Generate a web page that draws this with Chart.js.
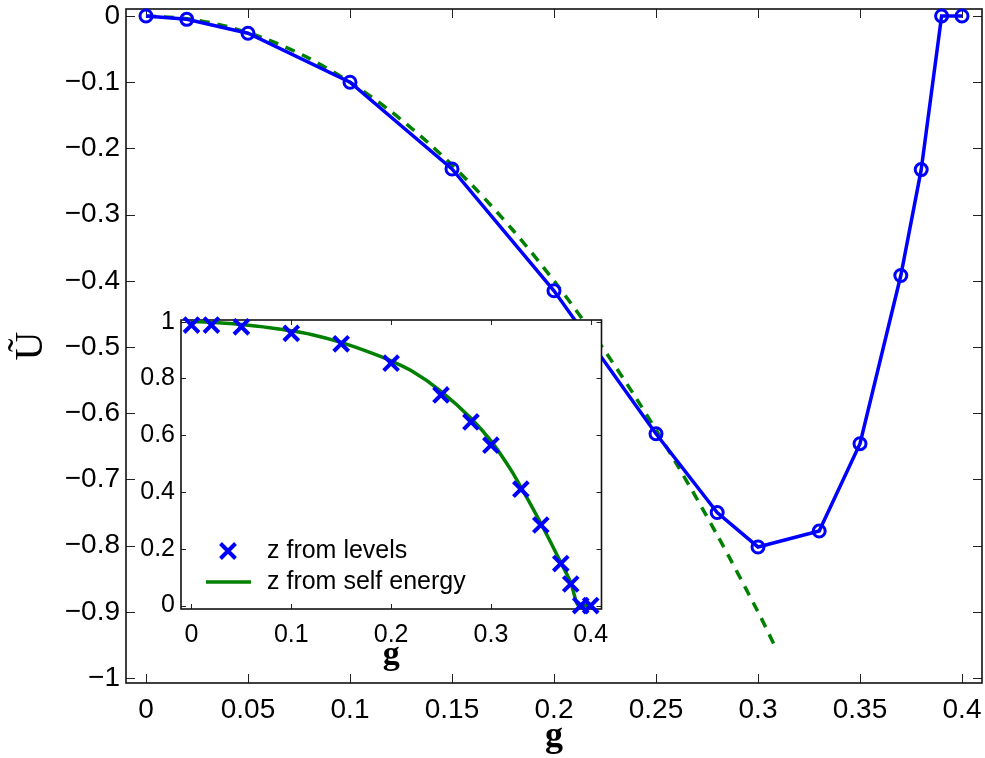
<!DOCTYPE html>
<html>
<head>
<meta charset="utf-8">
<script src="https://cdn.jsdelivr.net/npm/chart.js@4.4.0/dist/chart.umd.min.js"></script>
<style>
  html, body { margin: 0; padding: 0; background: #fff; overflow: hidden; }
  #main { position: absolute; left: 0; top: 0; }
  #inset { position: absolute; left: 130px; top: 305px; }
</style>
</head>
<body>
<canvas id="main" width="985" height="758"></canvas>
<canvas id="inset" width="480" height="375"></canvas>
<script>
// main plot: U~ against g
const mainG = [0, 0.02, 0.05, 0.1, 0.15, 0.2, 0.25, 0.28, 0.3, 0.33, 0.35, 0.37, 0.38, 0.39, 0.4];
const mainU = [0, -0.005, -0.026, -0.1, -0.231, -0.415, -0.631, -0.75, -0.802, -0.778, -0.646, -0.392, -0.232, 0, 0];

// green dashed curve
const dashG = [0, 0.02, 0.04, 0.06, 0.08, 0.1, 0.12, 0.14, 0.16, 0.18, 0.2, 0.22, 0.24, 0.26, 0.28, 0.3, 0.308];
const dashU = [0, -0.004, -0.016, -0.036, -0.064, -0.1, -0.144, -0.196, -0.256, -0.324, -0.4, -0.484, -0.576, -0.676, -0.784, -0.9, -0.95];

const mainXTicks = [0, 0.05, 0.1, 0.15, 0.2, 0.25, 0.3, 0.35, 0.4];
const mainYTicks = [0, -0.1, -0.2, -0.3, -0.4, -0.5, -0.6, -0.7, -0.8, -0.9, -1];

// inset: z against g
const levelsG = [0, 0.02, 0.05, 0.1, 0.15, 0.2, 0.25, 0.28, 0.3, 0.33, 0.35, 0.37, 0.38, 0.39, 0.4];
const levelsZ = [0.988, 0.988, 0.982, 0.959, 0.922, 0.854, 0.742, 0.647, 0.565, 0.41, 0.284, 0.148, 0.076, 0, 0];

const selfG = [0, 0.02, 0.05, 0.08, 0.1, 0.12, 0.15, 0.18, 0.2, 0.22, 0.25, 0.28, 0.3, 0.32, 0.33, 0.35, 0.36, 0.37, 0.38, 0.388, 0.4];
const selfZ = [1.0, 0.998, 0.99, 0.978, 0.968, 0.955, 0.927, 0.89, 0.862, 0.828, 0.755, 0.66, 0.58, 0.478, 0.418, 0.29, 0.222, 0.152, 0.08, 0, 0];

const insetXTicks = [0, 0.1, 0.2, 0.3, 0.4];
const insetYTicks = [0, 0.2, 0.4, 0.6, 0.8, 1];

const BLUE = '#0000ff';
const GREEN = '#008000';
const SANS = '"Liberation Sans", Arial, sans-serif';
const SERIF = '"Liberation Serif", "Times New Roman", serif';

const pts = (xs, ys) => xs.map((x, i) => ({ x, y: ys[i] }));
const fmt = (v) => (v < 0 ? '\u2212' + String(-v) : String(v));

// matlab style box with inward ticks on all four sides
const framePlugin = {
    id: 'frame',
    beforeDraw(chart, args, opts) {
        if (!opts.fill) return;
        const a = chart.chartArea;
        chart.ctx.save();
        chart.ctx.fillStyle = '#fff';
        chart.ctx.fillRect(a.left, a.top, a.right - a.left, a.bottom - a.top);
        chart.ctx.restore();
    },
    beforeDatasetsDraw(chart, args, opts) {
        const { ctx, chartArea: a, scales } = chart;
        ctx.save();
        ctx.strokeStyle = '#222';
        ctx.lineWidth = 1;
        ctx.beginPath();
        scales.x.ticks.forEach((t) => {
            const p = Math.round(scales.x.getPixelForValue(t.value)) + 0.5;
            ctx.moveTo(p, a.bottom); ctx.lineTo(p, a.bottom - opts.len);
            ctx.moveTo(p, a.top); ctx.lineTo(p, a.top + opts.len);
        });
        scales.y.ticks.forEach((t) => {
            const p = Math.round(scales.y.getPixelForValue(t.value)) + 0.5;
            ctx.moveTo(a.left, p); ctx.lineTo(a.left + opts.len, p);
            ctx.moveTo(a.right, p); ctx.lineTo(a.right - opts.len, p);
        });
        ctx.stroke();
        ctx.lineWidth = opts.width;
        ctx.strokeStyle = '#111';
        ctx.strokeRect(a.left, a.top, a.right - a.left, a.bottom - a.top);
        ctx.restore();
    },
};

// legend drawn inside the inset, bottom left
const insetLegend = {
    id: 'insetLegend',
    afterDatasetsDraw(chart) {
        const { ctx, chartArea: a } = chart;
        ctx.save();
        const mx = a.left + 47, my1 = a.top + 231, my2 = a.top + 262;
        ctx.strokeStyle = BLUE;
        ctx.lineWidth = 4;
        ctx.beginPath();
        ctx.moveTo(mx - 7.5, my1 - 7.5); ctx.lineTo(mx + 7.5, my1 + 7.5);
        ctx.moveTo(mx - 7.5, my1 + 7.5); ctx.lineTo(mx + 7.5, my1 - 7.5);
        ctx.stroke();
        ctx.strokeStyle = GREEN;
        ctx.lineWidth = 3.5;
        ctx.beginPath();
        ctx.moveTo(a.left + 25, my2); ctx.lineTo(a.left + 70, my2);
        ctx.stroke();
        ctx.fillStyle = '#000';
        ctx.font = '25px ' + SANS;
        ctx.textBaseline = 'middle';
        ctx.fillText(chart.data.datasets[0].label, a.left + 86, my1);
        ctx.fillText(chart.data.datasets[1].label, a.left + 86, my2);
        ctx.restore();
    },
};

const mainConfig = () => ({
    type: 'line',
    data: {
        datasets: [
            {
                label: 'U',
                data: pts(mainG, mainU),
                borderColor: BLUE,
                borderWidth: 3.5,
                pointStyle: 'circle',
                pointRadius: 6,
                pointBorderWidth: 3,
                pointBorderColor: BLUE,
                pointBackgroundColor: 'rgba(0,0,0,0)',
                tension: 0,
                clip: false,
            },
            {
                label: 'fit',
                data: pts(dashG, dashU),
                borderColor: GREEN,
                borderWidth: 3.5,
                borderDash: [10, 8],
                pointRadius: 0,
                tension: 0.3,
                clip: false,
            },
        ],
    },
    options: {
        responsive: false,
        animation: false,
        devicePixelRatio: 1,
        layout: { padding: { top: 8, right: 0, left: 0, bottom: 0 } },
        plugins: {
            legend: { display: false },
            tooltip: { enabled: false },
            frame: { len: 9, width: 1.6 },
        },
        scales: {
            x: {
                type: 'linear',
                min: -0.0098,
                max: 0.4098,
                grid: { display: false, drawTicks: false },
                border: { display: false },
                afterBuildTicks: (s) => { s.ticks = mainXTicks.map((v) => ({ value: v })); },
                afterFit: (s) => { s.height = 75; s.paddingLeft = 0; s.paddingRight = 0; },
                ticks: {
                    autoSkip: false,
                    maxRotation: 0,
                    padding: 10,
                    color: '#000',
                    font: { family: SANS, size: 28 },
                    callback: (v) => fmt(v),
                },
                title: {
                    display: true,
                    text: 'g',
                    color: '#000',
                    font: { family: SERIF, size: 36, weight: 'bold' },
                    padding: { top: 0, bottom: 0 },
                },
            },
            y: {
                type: 'linear',
                min: -1.0075,
                max: 0.0106,
                grid: { display: false, drawTicks: false },
                border: { display: false },
                afterBuildTicks: (s) => { s.ticks = mainYTicks.map((v) => ({ value: v })); },
                afterFit: (s) => { s.width = 126; s.paddingTop = 0; s.paddingBottom = 0; },
                ticks: {
                    autoSkip: false,
                    padding: 6,
                    color: '#000',
                    font: { family: SANS, size: 28 },
                    callback: (v) => fmt(v),
                },
                title: {
                    display: true,
                    text: '\u0168',
                    color: '#000',
                    font: { family: SERIF, size: 40 },
                    padding: { top: 7, bottom: 0 },
                },
            },
        },
    },
    plugins: [framePlugin],
});

const insetConfig = () => ({
    type: 'line',
    data: {
        datasets: [
            {
                label: 'z from levels',
                data: pts(levelsG, levelsZ),
                showLine: false,
                pointStyle: 'crossRot',
                pointRadius: 10.5,
                pointBorderWidth: 4,
                pointBorderColor: BLUE,
                borderColor: BLUE,
                clip: false,
            },
            {
                label: 'z from self energy',
                data: pts(selfG, selfZ),
                borderColor: GREEN,
                borderWidth: 3.5,
                pointRadius: 0,
                cubicInterpolationMode: 'monotone',
                clip: false,
            },
        ],
    },
    options: {
        responsive: false,
        animation: false,
        devicePixelRatio: 1,
        layout: { padding: { top: 15, right: 0, left: 0, bottom: 0 } },
        plugins: {
            legend: { display: false },
            tooltip: { enabled: false },
            frame: { len: 5, width: 1.6, fill: true },
        },
        scales: {
            x: {
                type: 'linear',
                min: -0.0105,
                max: 0.4108,
                grid: { display: false, drawTicks: false },
                border: { display: false },
                afterBuildTicks: (s) => { s.ticks = insetXTicks.map((v) => ({ value: v })); },
                afterFit: (s) => { s.height = 71; s.paddingLeft = 0; s.paddingRight = 0; },
                ticks: {
                    autoSkip: false,
                    maxRotation: 0,
                    padding: 11,
                    color: '#000',
                    font: { family: SANS, size: 25 },
                    callback: (v) => fmt(v),
                },
                title: {
                    display: true,
                    text: 'g',
                    color: '#000',
                    font: { family: SERIF, size: 34, weight: 'bold' },
                    padding: { top: 0, bottom: 4 },
                },
            },
            y: {
                type: 'linear',
                min: -0.012,
                max: 1.006,
                grid: { display: false, drawTicks: false },
                border: { display: false },
                afterBuildTicks: (s) => { s.ticks = insetYTicks.map((v) => ({ value: v })); },
                afterFit: (s) => { s.width = 51; s.paddingTop = 0; s.paddingBottom = 0; },
                ticks: {
                    autoSkip: false,
                    padding: 6,
                    color: '#000',
                    font: { family: SANS, size: 25 },
                    callback: (v) => fmt(v),
                },
            },
        },
    },
    plugins: [framePlugin, insetLegend],
});

// chart.js keeps a few px of right margin for the last tick label;
// widen the canvas so the plot box ends where it should
function build(id, config, right) {
    const canvas = document.getElementById(id);
    let chart = new Chart(canvas, config());
    const dx = Math.round(right - chart.chartArea.right);
    if (dx !== 0) {
        chart.destroy();
        canvas.width = canvas.width + dx;
        chart = new Chart(canvas, config());
    }
    return chart;
}

build('main', mainConfig, 982);
build('inset', insetConfig, 471);
</script>
</body>
</html>
